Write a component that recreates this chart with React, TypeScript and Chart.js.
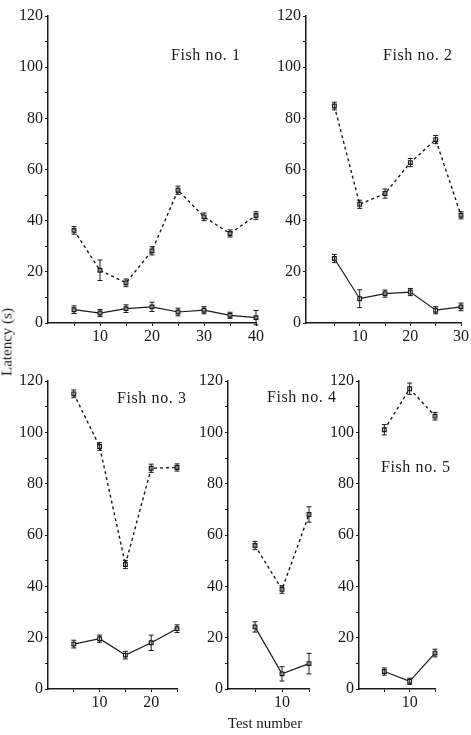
import React, { useEffect, useRef } from 'react';
import { Chart, registerables } from 'chart.js';
Chart.register(...registerables);

const FONT = "'Liberation Serif', 'Times New Roman', serif";
const INK = '#1a1a1a';

// ---- Data (test number vs latency, s) ----
const fish1Tests = [5, 10, 15, 20, 25, 30, 35, 40];
const fish1Upper = [36.2, 20.6, 15.7, 28.2, 51.9, 41.5, 35.0, 42.0];
const fish1UpperErr = [1.5, 4.0, 1.5, 1.6, 1.6, 1.5, 1.4, 1.5];
const fish1Lower = [5.2, 3.9, 5.6, 6.3, 4.3, 5.0, 3.0, 2.1];
const fish1LowerErr = [1.5, 1.4, 1.5, 1.8, 1.5, 1.4, 1.2, 2.8];

const fish2Tests = [5, 10, 15, 20, 25, 30];
const fish2Upper = [84.8, 46.4, 50.6, 62.7, 71.7, 42.1];
const fish2UpperErr = [1.5, 1.6, 1.8, 1.6, 1.6, 1.4];
const fish2Lower = [25.2, 9.5, 11.5, 12.1, 5.0, 6.3];
const fish2LowerErr = [1.6, 3.5, 1.4, 1.4, 1.4, 1.5];

const fish3Tests = [5, 10, 15, 20, 25];
const fish3Upper = [115.0, 94.5, 48.5, 86.0, 86.3];
const fish3UpperErr = [1.5, 1.5, 1.6, 1.6, 1.4];
const fish3Lower = [17.5, 19.6, 13.2, 18.0, 23.5];
const fish3LowerErr = [1.5, 1.4, 1.5, 3.0, 1.5];

const fish4Tests = [5, 10, 15];
const fish4Upper = [55.9, 38.8, 68.0];
const fish4UpperErr = [1.6, 1.5, 3.0];
const fish4Lower = [24.2, 5.9, 9.9];
const fish4LowerErr = [2.0, 2.8, 4.0];

const fish5Tests = [5, 10, 15];
const fish5Upper = [101.0, 117.0, 106.3];
const fish5UpperErr = [2.0, 2.2, 1.5];
const fish5Lower = [6.8, 3.0, 14.0];
const fish5LowerErr = [1.4, 1.2, 1.5];

const yTickValues = [0, 20, 40, 60, 80, 100, 120];
const xLabelStep = 10;

type Panel = {
  label: string;
  tests: number[];
  upper: number[];
  upperErr: number[];
  lower: number[];
  lowerErr: number[];
  xMin: number;
  xMax: number;
  area: { l: number; r: number; t: number; b: number };
  labelPos: { x: number; y: number };
};

const panels: Panel[] = [
  { label: 'Fish no. 1', tests: fish1Tests, upper: fish1Upper, upperErr: fish1UpperErr, lower: fish1Lower, lowerErr: fish1LowerErr, xMin: 0, xMax: 40, area: { l: 48, r: 256, t: 16, b: 323 }, labelPos: { x: 171, y: 55 } },
  { label: 'Fish no. 2', tests: fish2Tests, upper: fish2Upper, upperErr: fish2UpperErr, lower: fish2Lower, lowerErr: fish2LowerErr, xMin: -0.6, xMax: 30, area: { l: 306, r: 461, t: 16, b: 323 }, labelPos: { x: 383, y: 55 } },
  { label: 'Fish no. 3', tests: fish3Tests, upper: fish3Upper, upperErr: fish3UpperErr, lower: fish3Lower, lowerErr: fish3LowerErr, xMin: 0, xMax: 25, area: { l: 48, r: 177, t: 381, b: 689 }, labelPos: { x: 117, y: 398 } },
  { label: 'Fish no. 4', tests: fish4Tests, upper: fish4Upper, upperErr: fish4UpperErr, lower: fish4Lower, lowerErr: fish4LowerErr, xMin: 0, xMax: 15, area: { l: 228, r: 309, t: 381, b: 689 }, labelPos: { x: 267, y: 397 } },
  { label: 'Fish no. 5', tests: fish5Tests, upper: fish5Upper, upperErr: fish5UpperErr, lower: fish5Lower, lowerErr: fish5LowerErr, xMin: 0, xMax: 15, area: { l: 359, r: 435, t: 381, b: 689 }, labelPos: { x: 381, y: 467 } },
];

const Y_AXIS_W = 44;
const X_AXIS_H = 30;
const PAD_T = 14;
const PAD_R = 14;

const errorBarPlugin = {
  id: 'errorBars',
  afterDatasetsDraw(chart: any) {
    const ctx = chart.ctx;
    const ys = chart.scales.y;
    chart.data.datasets.forEach((ds: any, i: number) => {
      const meta = chart.getDatasetMeta(i);
      if (!ds.errors) return;
      ctx.save();
      ctx.strokeStyle = INK;
      ctx.lineWidth = 1;
      meta.data.forEach((pt: any, j: number) => {
        const v = ds.data[j].y;
        const e = ds.errors[j];
        const y1 = ys.getPixelForValue(v + e);
        const y2 = ys.getPixelForValue(v - e);
        const x = pt.x;
        ctx.beginPath();
        ctx.moveTo(x, y1);
        ctx.lineTo(x, y2);
        ctx.moveTo(x - 2.5, y1);
        ctx.lineTo(x + 2.5, y1);
        ctx.moveTo(x - 2.5, y2);
        ctx.lineTo(x + 2.5, y2);
        ctx.stroke();
      });
      ctx.restore();
    });
  },
};

function PanelChart({ p }: { p: Panel }) {
  const ref = useRef<HTMLCanvasElement | null>(null);
  const w = p.area.r - p.area.l + Y_AXIS_W + PAD_R;
  const h = p.area.b - p.area.t + PAD_T + X_AXIS_H;
  useEffect(() => {
    if (!ref.current) return;
    const mk = (vals: number[]) => p.tests.map((t, i) => ({ x: t, y: vals[i] }));
    const chart = new Chart(ref.current, {
      type: 'line',
      data: {
        datasets: [
          {
            data: mk(p.upper),
            errors: p.upperErr,
            clip: false,
            borderColor: INK,
            borderWidth: 1.4,
            borderDash: [3, 3],
            pointStyle: 'rect',
            pointRadius: 2.6,
            pointBackgroundColor: '#ffffff',
            pointBorderColor: INK,
            pointBorderWidth: 1.2,
            tension: 0,
          } as any,
          {
            data: mk(p.lower),
            errors: p.lowerErr,
            clip: false,
            borderColor: INK,
            borderWidth: 1.2,
            pointStyle: 'rect',
            pointRadius: 2.6,
            pointBackgroundColor: '#ffffff',
            pointBorderColor: INK,
            pointBorderWidth: 1.2,
            tension: 0,
          } as any,
        ],
      },
      options: {
        responsive: false,
        animation: false,
        layout: { padding: { top: PAD_T, right: PAD_R, left: 0, bottom: 0 } },
        plugins: { legend: { display: false }, tooltip: { enabled: false }, title: { display: false } },
        scales: {
          x: {
            type: 'linear',
            min: p.xMin,
            max: p.xMax,
            afterFit: (s: any) => { s.height = X_AXIS_H; },
            afterBuildTicks: (s: any) => {
              const ticks = [];
              for (let v = 5; v <= p.xMax; v += 5) ticks.push({ value: v });
              s.ticks = ticks;
            },
            ticks: {
              autoSkip: false,
              maxRotation: 0,
              padding: 1,
              color: INK,
              font: { family: FONT, size: 16 },
              callback: (v: any) => (Number(v) % xLabelStep === 0 && Number(v) !== 0 ? String(v) : ''),
            },
            grid: { drawOnChartArea: false, drawTicks: true, tickLength: 3, color: INK, tickWidth: 1 },
            border: { display: true, color: INK, width: 1.5 },
          },
          y: {
            type: 'linear',
            min: 0,
            max: 120,
            afterFit: (s: any) => { s.width = Y_AXIS_W; },
            afterBuildTicks: (s: any) => {
              const ticks = [];
              for (let v = 0; v <= 120; v += 10) ticks.push({ value: v });
              s.ticks = ticks;
            },
            ticks: {
              autoSkip: false,
              padding: 2,
              color: INK,
              font: { family: FONT, size: 16 },
              callback: (v: any) => (yTickValues.includes(Number(v)) ? String(v) : ''),
            },
            grid: { drawOnChartArea: false, drawTicks: true, tickLength: 3, color: INK, tickWidth: 1 },
            border: { display: true, color: INK, width: 1.5 },
          },
        },
      } as any,
      plugins: [errorBarPlugin],
    });
    return () => chart.destroy();
  }, []);
  return (
    <>
      <canvas
        ref={ref}
        width={w}
        height={h}
        style={{ position: 'absolute', left: p.area.l - Y_AXIS_W, top: p.area.t - PAD_T, width: w, height: h }}
      />
      <div
        style={{
          position: 'absolute',
          left: p.labelPos.x,
          top: p.labelPos.y - 10,
          fontFamily: FONT,
          fontSize: 16,
          letterSpacing: '0.6px',
          color: INK,
          whiteSpace: 'nowrap',
          lineHeight: '20px',
        }}
      >
        {p.label}
      </div>
    </>
  );
}

export default function App() {
  return (
    <div style={{ position: 'absolute', left: 0, top: 0, width: 471, height: 735, background: '#ffffff', overflow: 'hidden' }}>
      {panels.map((p) => (
        <PanelChart key={p.label} p={p} />
      ))}
      <div
        style={{
          position: 'absolute',
          left: 7,
          top: 342,
          transform: 'translate(-50%, -50%) rotate(-90deg)',
          fontFamily: FONT,
          fontSize: 15,
          color: INK,
          whiteSpace: 'nowrap',
        }}
      >
        Latency (s)
      </div>
      <div
        style={{
          position: 'absolute',
          left: 265,
          top: 723,
          transform: 'translate(-50%, -50%)',
          fontFamily: FONT,
          fontSize: 15,
          color: INK,
          whiteSpace: 'nowrap',
        }}
      >
        Test number
      </div>
    </div>
  );
}
